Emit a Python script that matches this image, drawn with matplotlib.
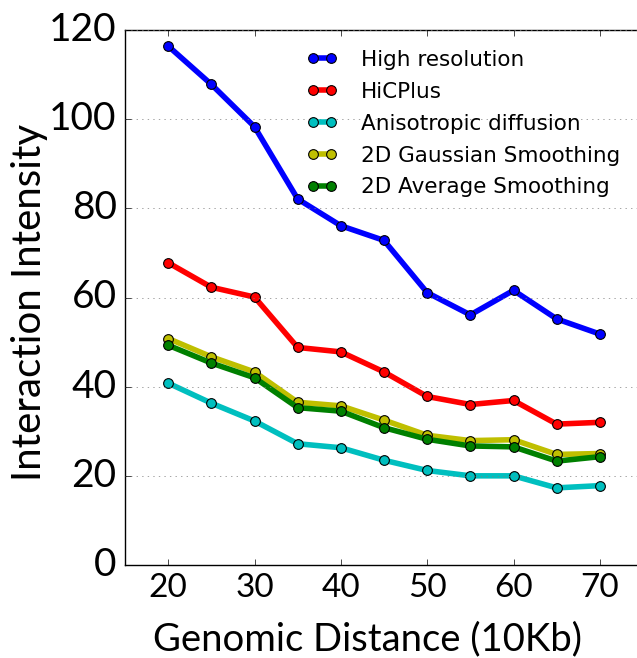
import matplotlib
matplotlib.use("Agg")
import matplotlib.pyplot as plt

plt.style.use("classic")

# genomic distance (10Kb)
distance = [20, 25, 30, 35, 40, 45, 50, 55, 60, 65, 70]

high_res = [116.4, 107.8, 98.3, 82.1, 76.1, 72.8, 61.1, 56.1, 61.6, 55.2, 51.8]
hicplus = [67.8, 62.3, 60.1, 48.8, 47.8, 43.3, 37.8, 36.0, 36.9, 31.6, 32.0]
aniso = [40.8, 36.3, 32.3, 27.2, 26.3, 23.5, 21.2, 20.0, 20.0, 17.3, 17.8]
gauss = [50.8, 46.7, 43.3, 36.5, 35.7, 32.5, 29.1, 27.9, 28.1, 24.8, 25.0]
average = [49.3, 45.3, 42.0, 35.3, 34.5, 30.8, 28.2, 26.7, 26.5, 23.3, 24.3]

fig = plt.figure(figsize=(6.37, 6.58), dpi=100)
fig.patch.set_facecolor("white")
ax = fig.add_axes([125 / 637, 93 / 658, 518 / 637, 535 / 658])

kw = dict(marker="o", markersize=7, linewidth=4, markeredgecolor="k", markeredgewidth=0.8)
ax.plot(distance, high_res, color="b", label="High resolution", **kw)
ax.plot(distance, hicplus, color="r", label="HiCPlus", **kw)
ax.plot(distance, aniso, color="c", label="Anisotropic diffusion", **kw)
ax.plot(distance, gauss, color="y", label="2D Gaussian Smoothing", **kw)
ax.plot(distance, average, color="g", label="2D Average Smoothing", **kw)

ax.set_xlim(15, 75)
ax.set_ylim(0, 120)
ax.set_xticks([20, 30, 40, 50, 60, 70])
ax.set_yticks([0, 20, 40, 60, 80, 100, 120])
ax.yaxis.grid(True, linestyle=":", color="gray")
ax.xaxis.grid(False)

for lbl in ax.get_xticklabels():
    lbl.set_family("Lato")
    lbl.set_fontsize(24)
for lbl in ax.get_yticklabels():
    lbl.set_family("Lato")
    lbl.set_fontsize(28)
ax.tick_params(axis="y", pad=6)
ax.tick_params(axis="x", pad=6)

ax.set_xlabel("Genomic Distance (10Kb)", family="Lato", fontsize=27.5)
ax.set_ylabel("Interaction Intensity", family="Lato", fontsize=29)
ax.xaxis.set_label_coords(0.469, -0.106)
ax.yaxis.set_label_coords(-0.1486, 0.49)

leg = ax.legend(loc="upper left", bbox_to_anchor=(307 / 637, 1 - 50 / 658),
                bbox_transform=fig.transFigure, frameon=False, numpoints=2,
                fontsize=15.5, borderpad=0, borderaxespad=0, handlelength=1.4,
                handletextpad=1.12, labelspacing=0.55)

fig.savefig("out.png", dpi=100, facecolor="white")
